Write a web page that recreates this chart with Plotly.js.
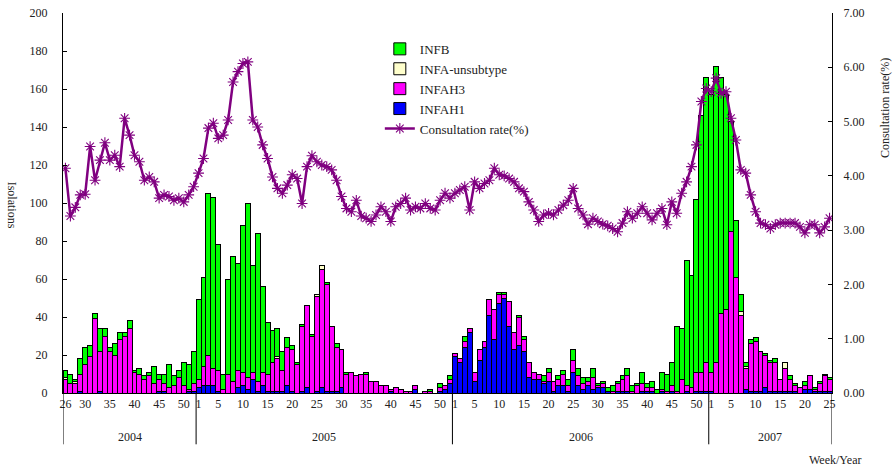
<!DOCTYPE html>
<html>
<head>
<meta charset="utf-8">
<script src="https://cdn.plot.ly/plotly-3.0.1.min.js"></script>
<style>html,body{margin:0;padding:0;background:#fff;}#chart{width:894px;height:467px;}</style>
</head>
<body>
<div id="chart"></div>
<script>
// ---- Data ----
var years = [2004, 2005, 2006, 2007];
var firstWeek = [26, 1, 1, 1];
var lastWeek = [52, 52, 52, 25];

var tickWeeks = [
  [26, 30, 35, 40, 45, 50],
  [1, 5, 10, 15, 20, 25, 30, 35, 40, 45, 50],
  [1, 5, 10, 15, 20, 25, 30, 35, 40, 45, 50],
  [1, 5, 10, 15, 20, 25]
];

// INFAH1 isolations
var infah1 = [
  0,0,0,1,0,0,0,1,0,0,0,0,0,0,0,0,0,0,0,1,1,0,0,0,0,1,1,
  3,4,4,4,1,0,0,0,3,4,2,7,1,4,1,1,1,1,4,1,0,1,3,0,1,3,1,1,1,3,0,0,0,0,0,0,0,0,0,1,0,0,0,0,2,0,0,0,0,1,2,5,
  19,16,24,32,6,17,24,41,28,47,50,35,23,25,22,8,7,7,5,6,1,4,4,1,11,4,2,4,2,3,3,1,0,1,1,1,0,0,1,1,1,0,1,0,1,0,0,1,0,1,1,1,
  1,0,0,0,0,0,0,2,1,1,1,3,1,1,1,1,1,1,0,2,2,1,1,1,1
];
// INFAH3 isolations
var infah3 = [
  7,5,5,9,15,19,39,21,30,22,20,28,30,34,11,10,7,9,5,6,4,3,4,8,4,1,4,
  4,10,16,9,11,2,10,6,9,7,6,4,5,7,9,15,17,11,20,22,15,34,43,30,50,62,56,34,23,20,10,11,9,10,10,6,6,4,4,1,3,2,1,1,2,0,1,1,0,2,2,2,
  2,2,3,2,5,6,3,8,16,5,2,13,9,15,6,8,4,3,1,5,5,3,6,3,6,5,3,2,6,1,2,0,1,4,6,8,1,4,4,2,2,0,1,1,3,1,7,3,3,10,10,15,
  10,16,42,44,85,61,41,11,25,26,21,17,15,15,6,12,6,3,3,2,7,1,4,8,6
];
// INFA-unsubtype isolations
var infaUnsub = [
  1,0,1,0,0,0,0,0,0,0,0,0,0,0,0,0,0,0,0,0,0,0,0,0,0,0,0,
  0,0,0,0,0,0,0,0,0,0,0,0,0,0,0,0,1,0,0,0,0,0,0,0,1,2,0,0,0,0,0,0,0,0,0,0,0,0,0,0,0,0,0,0,0,0,0,0,0,0,0,0,
  0,0,0,0,0,0,0,0,0,0,0,0,0,0,0,0,0,0,0,0,0,0,0,0,0,0,0,0,0,0,0,0,0,0,0,0,0,0,0,0,0,0,0,0,0,0,0,0,0,0,0,0,
  0,0,0,0,0,0,2,1,0,0,0,0,0,0,0,3,0,0,0,0,0,0,0,0,0
];
// INFB isolations
var infb = [
  4,5,1,8,9,6,3,12,4,2,6,4,2,4,1,3,2,2,9,3,5,12,5,4,12,13,17,
  42,47,85,90,66,8,50,66,56,77,92,56,78,45,27,17,15,10,5,2,1,1,0,1,0,0,1,0,2,0,1,0,0,0,1,0,0,0,0,0,0,0,0,0,0,0,0,1,0,2,0,2,
  0,0,3,0,0,0,0,0,0,1,1,0,0,1,2,0,0,0,3,2,0,2,2,3,6,4,3,2,5,1,1,2,3,1,2,4,3,1,6,2,3,2,9,9,12,34,27,66,59,91,135,150,
  146,156,124,113,58,30,9,2,2,2,0,1,1,2,0,0,2,1,0,2,0,1,1,1,1
];
// Consultation rate (%)
var consultRate = [
  4.14,3.26,3.42,3.65,3.66,4.54,3.92,4.29,4.61,4.29,4.38,4.17,5.06,4.75,4.38,4.26,3.92,3.98,3.89,3.59,3.65,3.62,3.55,3.59,3.52,3.65,3.80,
  4.05,4.32,4.88,4.97,4.69,4.75,5.03,5.73,5.92,6.07,6.10,5.03,4.90,4.57,4.32,3.98,3.77,3.68,3.83,4.02,3.95,3.49,4.17,4.37,4.26,4.20,
  4.17,4.11,3.92,3.62,3.40,3.34,3.55,3.26,3.22,3.16,3.28,3.43,3.34,3.16,3.43,3.49,3.59,3.37,3.43,3.40,3.49,3.40,3.37,3.55,3.68,3.59,
  3.68,3.74,3.80,3.37,3.89,3.77,3.86,3.92,4.14,4.02,4.00,3.95,3.89,3.77,3.71,3.52,3.37,3.16,3.28,3.31,3.28,3.37,3.46,3.55,3.77,3.40,
  3.28,3.11,3.22,3.16,3.11,3.08,3.03,2.97,3.13,3.34,3.22,3.31,3.43,3.31,3.19,3.31,3.40,3.10,3.52,3.31,3.68,3.89,4.17,4.57,5.37,5.61,
  5.55,5.80,5.52,5.55,5.06,4.66,4.11,4.05,3.65,3.34,3.13,3.10,3.03,3.10,3.13,3.13,3.13,3.13,3.06,2.95,3.10,3.10,2.95,3.06,3.22
];

// ---- Categories ----
var cats = [];
var tickvals = [], ticktext = [];
var yearStart = [], yearEnd = [];
years.forEach(function (yr, i) {
  yearStart.push(cats.length);
  for (var w = firstWeek[i]; w <= lastWeek[i]; w++) {
    var c = yr + '-' + w;
    cats.push(c);
    if (tickWeeks[i].indexOf(w) >= 0) { tickvals.push(c); ticktext.push(String(w)); }
  }
  yearEnd.push(cats.length - 1);
});

var FONT = 'Liberation Serif';
var TXT = '#222222';
var barLine = {color: '#000000', width: 1};

var traces = [
  {type: 'bar', name: 'INFAH1', x: cats, y: infah1, marker: {color: '#0000FF', line: barLine}, legendrank: 4},
  {type: 'bar', name: 'INFAH3', x: cats, y: infah3, marker: {color: '#FF00FF', line: barLine}, legendrank: 3},
  {type: 'bar', name: 'INFA-unsubtype', x: cats, y: infaUnsub, marker: {color: '#FFFFCC', line: barLine}, legendrank: 2},
  {type: 'bar', name: 'INFB', x: cats, y: infb, marker: {color: '#00FF00', line: barLine}, legendrank: 1},
  {type: 'scatter', mode: 'lines+markers', name: 'Consultation rate(%)', x: cats, y: consultRate, yaxis: 'y2',
   line: {color: '#800080', width: 2.5},
   marker: {symbol: 'asterisk-open', size: 9, color: '#800080', line: {color: '#800080', width: 1.1}},
   legendrank: 5}
];

var shapes = [];
var sepPositions = [yearStart[0] - 0.5];
yearEnd.forEach(function (e) { sepPositions.push(e + 0.5); });
sepPositions.forEach(function (p) {
  shapes.push({type: 'line', xref: 'x', yref: 'paper', x0: p, x1: p, y0: 0, y1: -0.135,
               line: {color: '#000000', width: 1}});
});

var annotations = [];
years.forEach(function (yr, i) {
  annotations.push({xref: 'x', yref: 'paper', x: (yearStart[i] + yearEnd[i]) / 2, y: -0.115,
                    xanchor: 'center', yanchor: 'middle',
                    text: String(yr), showarrow: false, font: {family: FONT, size: 12, color: TXT}});
});
annotations.push({xref: 'paper', yref: 'paper', x: 1.004, y: -0.176, xanchor: 'center', yanchor: 'middle',
                  text: 'Week/Year', showarrow: false, font: {family: FONT, size: 12, color: TXT}});
annotations.push({xref: 'paper', yref: 'paper', x: -0.066, y: 0.495, xanchor: 'center', yanchor: 'middle',
                  text: 'Isolations', showarrow: false, textangle: 90, font: {family: FONT, size: 12, color: TXT}});
annotations.push({xref: 'paper', yref: 'paper', x: 1.069, y: 0.75, xanchor: 'center', yanchor: 'middle',
                  text: 'Consultation rate(%)', showarrow: false, textangle: -90,
                  font: {family: FONT, size: 12, color: TXT}});

var tickFont = {family: FONT, size: 12, color: TXT};

var layout = {
  width: 894, height: 467,
  margin: {l: 63, r: 62, t: 13, b: 74},
  paper_bgcolor: '#ffffff', plot_bgcolor: '#ffffff',
  barmode: 'stack', bargap: 0,
  font: {family: FONT, size: 12, color: TXT},
  showlegend: true,
  legend: {x: 0.412, y: 0.945, xanchor: 'left', yanchor: 'top', bgcolor: 'rgba(0,0,0,0)',
           traceorder: 'normal', font: {family: FONT, size: 13, color: TXT}, tracegroupgap: 0, itemwidth: 30},
  xaxis: {type: 'category', categoryorder: 'array', categoryarray: cats,
          range: [-0.5, cats.length - 0.5], tickmode: 'array', tickvals: tickvals, ticktext: ticktext,
          ticks: '', showgrid: false, zeroline: false, showline: true, linecolor: '#000', linewidth: 1,
          tickfont: tickFont, tickangle: 0},
  yaxis: {range: [0, 200], dtick: 20, ticks: 'inside', ticklen: 4, tickcolor: '#000', showgrid: false,
          zeroline: false, showline: true, linecolor: '#000', linewidth: 1, ticklabelstandoff: 12,
          tickfont: tickFont},
  yaxis2: {range: [0, 7], dtick: 1, tickformat: '.2f', overlaying: 'y', side: 'right', ticks: 'inside',
           ticklen: 4, tickcolor: '#000', showgrid: false, zeroline: false, showline: true, linecolor: '#000',
           linewidth: 1, ticklabelstandoff: 8, tickfont: tickFont},
  shapes: shapes,
  annotations: annotations
};

Plotly.newPlot('chart', traces, layout, {displayModeBar: false, staticPlot: true});
</script>
</body>
</html>
